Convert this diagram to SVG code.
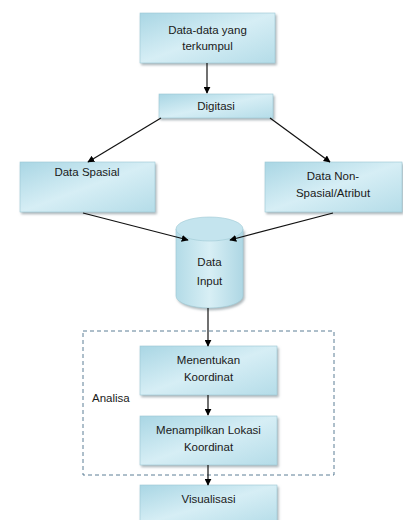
<svg xmlns="http://www.w3.org/2000/svg" width="403" height="520" viewBox="0 0 403 520">
<defs>
<linearGradient id="g" x1="0" y1="0" x2="1" y2="1">
<stop offset="0" stop-color="#a9d6e4"/>
<stop offset="0.5" stop-color="#d6eef5"/>
<stop offset="1" stop-color="#b4dce8"/>
</linearGradient>
<linearGradient id="gc" x1="0" y1="0" x2="1" y2="0">
<stop offset="0" stop-color="#b3dbe7"/>
<stop offset="0.5" stop-color="#d8eff5"/>
<stop offset="1" stop-color="#aed7e4"/>
</linearGradient>
<filter id="sh" x="-10%" y="-10%" width="130%" height="140%">
<feDropShadow dx="1.5" dy="2" stdDeviation="1.2" flood-color="#7a8a90" flood-opacity="0.6"/>
</filter>
<marker id="ah" viewBox="0 0 10 10" refX="9" refY="5" markerWidth="7" markerHeight="7" orient="auto" markerUnits="userSpaceOnUse">
<path d="M0,0 L10,5 L0,10 z" fill="#000"/>
</marker>
</defs>
<style>
.box{fill:url(#g);stroke:#9cc7d4;stroke-width:0.6;filter:url(#sh)}
.t{font-family:"Liberation Sans",Arial,sans-serif;font-size:11.5px;fill:#1a1a1a;text-anchor:middle}
.c{stroke:#111;stroke-width:1.2;fill:none;marker-end:url(#ah)}
</style>
<rect width="403" height="520" fill="#fff"/>
<g id="analisa">
<rect x="83" y="331" width="251" height="144" fill="none" stroke="#4a6f8a" stroke-width="0.9" stroke-dasharray="4,3"/>
<text class="t" x="92" y="402" style="text-anchor:start">Analisa</text>
</g>
<g id="n1">
<rect class="box" x="140" y="13" width="135" height="50"/>
<text class="t" x="207.5" y="34">Data-data yang</text>
<text class="t" x="207.5" y="50">terkumpul</text>
</g>
<g id="n2">
<rect class="box" x="159" y="94" width="114" height="24"/>
<text class="t" x="216" y="110">Digitasi</text>
</g>
<g id="n3">
<rect class="box" x="20" y="162" width="135" height="50"/>
<text class="t" x="87" y="176">Data Spasial</text>
</g>
<g id="n4">
<rect class="box" x="265" y="162" width="137" height="50"/>
<text class="t" x="333" y="180">Data Non-</text>
<text class="t" x="333" y="197">Spasial/Atribut</text>
</g>
<g id="n5">
<path d="M176,229 L176,296 A33.5,12 0 0 0 243,296 L243,229 Z" fill="url(#gc)" stroke="#9cc7d4" stroke-width="0.6" filter="url(#sh)"/>
<ellipse cx="209.5" cy="229" rx="33.5" ry="12" fill="#c4e4ee" stroke="#9cc7d4" stroke-width="0.6"/>
<text class="t" x="209.5" y="266">Data</text>
<text class="t" x="209.5" y="285">Input</text>
</g>
<g id="n6">
<rect class="box" x="140" y="346" width="137" height="49"/>
<text class="t" x="208.5" y="364">Menentukan</text>
<text class="t" x="208.5" y="381">Koordinat</text>
</g>
<g id="n7">
<rect class="box" x="140" y="416" width="137" height="49"/>
<text class="t" x="208.5" y="434">Menampilkan Lokasi</text>
<text class="t" x="208.5" y="451">Koordinat</text>
</g>
<g id="n8">
<rect class="box" x="140" y="485" width="137" height="40"/>
<text class="t" x="208.5" y="503">Visualisasi</text>
</g>
<g id="connectors">
<line class="c" x1="207" y1="63" x2="207" y2="93"/>
<line class="c" x1="161" y1="118" x2="88" y2="162"/>
<line class="c" x1="270" y1="118" x2="330" y2="162"/>
<line class="c" x1="83" y1="213" x2="188" y2="240"/>
<line class="c" x1="333" y1="213" x2="230" y2="240"/>
<line class="c" x1="208" y1="308" x2="208" y2="346"/>
<line class="c" x1="208" y1="395" x2="208" y2="415"/>
<line class="c" x1="208" y1="465" x2="208" y2="485"/>
</g>
</svg>
